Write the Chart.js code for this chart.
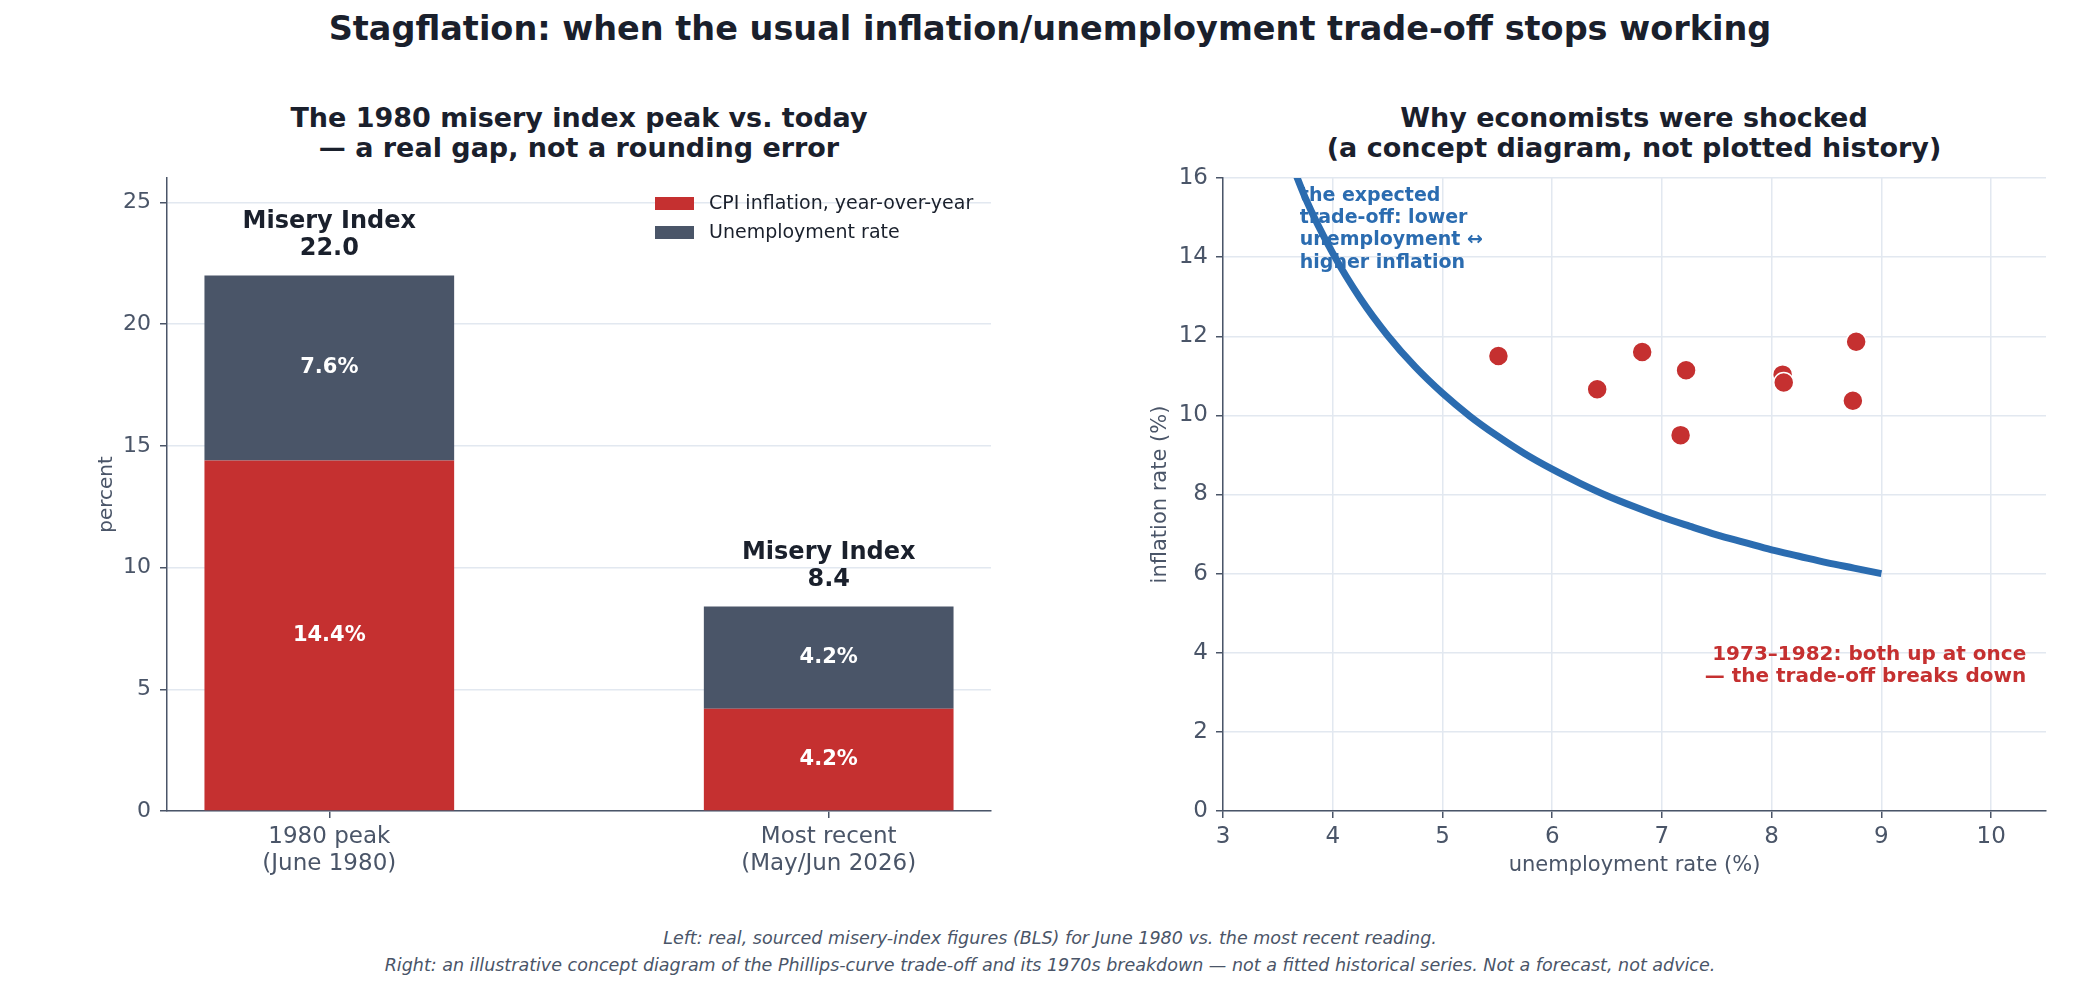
<!DOCTYPE html>
<html>
<head>
<meta charset="utf-8">
<script src="https://cdn.jsdelivr.net/npm/chart.js@4.4.1/dist/chart.umd.min.js"></script>
<style>
  body { margin: 0; width: 2100px; height: 990px; background: #fff; position: relative; overflow: hidden;
         font-family: "DejaVu Sans", sans-serif; }
  .abs { position: absolute; white-space: nowrap; }
  #mainTitle { left: 0; width: 2100px; top: 9px; text-align: center; font-size: 33.5px; line-height: 40px;
               font-weight: bold; color: #1a202c; }
  .subTitle { top: 103px; transform: translateX(-50%); text-align: center; font-size: 27px; line-height: 30px;
              font-weight: bold; color: #1a202c; }
  #footer { left: 0; width: 2100px; top: 925px; text-align: center; font-size: 17.5px; line-height: 27px;
            font-style: italic; color: #4a5568; }
  canvas { position: absolute; top: 100px; }
</style>
</head>
<body>
<div id="mainTitle" class="abs">Stagflation: when the usual inflation/unemployment trade-off stops working</div>
<div class="abs subTitle" style="left:579px">The 1980 misery index peak vs. today<br>— a real gap, not a rounding error</div>
<div class="abs subTitle" style="left:1634px">Why economists were shocked<br>(a concept diagram, not plotted history)</div>
<canvas id="barChart" width="1060" height="800" style="left:0"></canvas>
<canvas id="phillipsChart" width="1040" height="800" style="left:1060px"></canvas>
<div id="footer" class="abs">Left: real, sourced misery-index figures (BLS) for June 1980 vs. the most recent reading.<br>Right: an illustrative concept diagram of the Phillips-curve trade-off and its 1970s breakdown — not a fitted historical series. Not a forecast, not advice.</div>

<script>
// Left panel data
const barLabels = [['1980 peak', '(June 1980)'], ['Most recent', '(May/Jun 2026)']];
const barSlots = [0, 1];
const cpiInflation = [14.4, 4.2];
const unemploymentRate = [7.6, 4.2];
const miseryIndex = [22.0, 8.4];

// Right panel data: the textbook curve and the 1970s dots
const curveUnemp = [3.5, 3.75, 4, 4.25, 4.5, 4.75, 5, 5.25, 5.5, 5.75, 6, 6.25, 6.5, 6.75, 7, 7.25, 7.5, 7.75, 8, 8.25, 8.5, 8.75, 9];
const curveInfl = [17.3, 15.5, 14.1, 12.96, 12.02, 11.23, 10.56, 9.98, 9.48, 9.03, 8.64, 8.29, 7.97, 7.69, 7.43, 7.2, 6.98, 6.79, 6.6, 6.44, 6.28, 6.14, 6.0];
const dotUnemp = [5.51, 6.41, 6.82, 7.22, 7.17, 8.10, 8.11, 8.77, 8.74];
const dotInfl = [11.5, 10.66, 11.6, 11.14, 9.5, 11.03, 10.83, 11.86, 10.37];

const RED = '#c53030';
const SLATE = '#4a5568';
const BLUE = '#2b6cb0';
const INK = '#1a202c';
const GRID = '#e2e8f0';
const FONT = '"DejaVu Sans"';

Chart.defaults.font.family = FONT;
Chart.defaults.color = SLATE;

// labels inside/above the stacked bars plus the legend box
const barText = {
  id: 'barText',
  afterDatasetsDraw(chart) {
    const ctx = chart.ctx;
    ctx.save();
    ctx.textAlign = 'center';
    ctx.textBaseline = 'middle';
    ctx.fillStyle = '#fff';
    ctx.font = 'bold 21px ' + FONT;
    chart.data.datasets.forEach((ds, di) => {
      chart.getDatasetMeta(di).data.forEach((bar, i) => {
        ctx.fillText(ds.data[i].y.toFixed(1) + '%', bar.x, (bar.y + bar.base) / 2);
      });
    });

    ctx.textBaseline = 'alphabetic';
    ctx.fillStyle = INK;
    ctx.font = 'bold 24px ' + FONT;
    chart.getDatasetMeta(1).data.forEach((bar, i) => {
      ctx.fillText(miseryIndex[i].toFixed(1), bar.x, bar.y - 20);
      ctx.fillText('Misery Index', bar.x, bar.y - 47);
    });

    // legend, top right of the plot
    const area = chart.chartArea;
    ctx.textAlign = 'left';
    ctx.textBaseline = 'middle';
    ctx.font = '19px ' + FONT;
    chart.data.datasets.forEach((ds, di) => {
      const y = area.top + 25.5 + di * 29;
      ctx.fillStyle = ds.backgroundColor;
      ctx.fillRect(area.right - 336, y - 6.5, 39, 13);
      ctx.fillStyle = INK;
      ctx.fillText(ds.label, area.right - 282, y + 1);
    });
    ctx.restore();
  }
};

new Chart(document.getElementById('barChart'), {
  type: 'bar',
  data: {
    datasets: [
      { label: 'CPI inflation, year-over-year', data: barSlots.map((x, i) => ({ x: x, y: cpiInflation[i] })),
        backgroundColor: RED, barPercentage: 0.5, categoryPercentage: 1 },
      { label: 'Unemployment rate', data: barSlots.map((x, i) => ({ x: x, y: unemploymentRate[i] })),
        backgroundColor: SLATE, barPercentage: 0.5, categoryPercentage: 1 }
    ]
  },
  options: {
    responsive: false,
    animation: false,
    devicePixelRatio: 1,
    layout: { padding: { top: 78, right: 69, left: 0, bottom: 0 } },
    plugins: { legend: { display: false }, tooltip: { enabled: false } },
    scales: {
      x: {
        type: 'linear', stacked: true, min: -0.325, max: 1.325, offset: false,
        afterBuildTicks: s => { s.ticks = barSlots.map(v => ({ value: v })); },
        afterFit: s => { s.height = 89; },
        ticks: { callback: v => barLabels[v], font: { size: 23 }, color: SLATE, padding: 5,
                 autoSkip: false, maxRotation: 0 },
        grid: { offset: false, drawOnChartArea: false, tickLength: 7, tickColor: SLATE, lineWidth: 1.5 },
        border: { color: SLATE, width: 1.5 }
      },
      y: {
        stacked: true, min: 0, max: 26,
        afterFit: s => { s.width = 167; },
        ticks: { stepSize: 5, includeBounds: false, font: { size: 22 }, color: SLATE, padding: 9 },
        grid: { color: GRID, lineWidth: 1.5, tickLength: 7, tickColor: SLATE },
        border: { color: SLATE, width: 1.5 },
        title: { display: true, text: 'percent', font: { size: 20 }, color: SLATE, padding: { top: 95, bottom: 0 } }
      }
    }
  },
  plugins: [barText]
});

// annotation text placed through the scales
const conceptNotes = {
  id: 'conceptNotes',
  afterDatasetsDraw(chart) {
    const { ctx, scales: { x, y } } = chart;
    ctx.save();
    ctx.font = 'bold 19px ' + FONT;
    ctx.textBaseline = 'middle';
    ctx.textAlign = 'left';
    ctx.fillStyle = BLUE;
    ['the expected', 'trade-off: lower', 'unemployment ↔', 'higher inflation'].forEach((t, i) => {
      ctx.fillText(t, x.getPixelForValue(3.7), y.getPixelForValue(15.8) + 10 + i * 22.3);
    });
    ctx.textAlign = 'right';
    ctx.fillStyle = RED;
    ctx.font = 'bold 20px ' + FONT;
    ['1973–1982: both up at once', '— the trade-off breaks down'].forEach((t, i) => {
      ctx.fillText(t, x.getPixelForValue(10.32), y.getPixelForValue(4.0) + 2 + i * 22);
    });
    ctx.restore();
  }
};

new Chart(document.getElementById('phillipsChart'), {
  type: 'line',
  data: {
    datasets: [
      { data: curveUnemp.map((u, i) => ({ x: u, y: curveInfl[i] })), borderColor: BLUE, borderWidth: 7,
        pointRadius: 0, cubicInterpolationMode: 'monotone', fill: false, clip: 0, order: 2 },
      { data: dotUnemp.map((u, i) => ({ x: u, y: dotInfl[i] })), showLine: false, pointRadius: 10,
        pointBackgroundColor: RED, pointBorderColor: '#fff', pointBorderWidth: 1.5, order: 1 }
    ]
  },
  options: {
    responsive: false,
    animation: false,
    devicePixelRatio: 1,
    layout: { padding: { top: 78, right: 54, left: 0, bottom: 0 } },
    plugins: { legend: { display: false }, tooltip: { enabled: false } },
    scales: {
      x: {
        type: 'linear', min: 3, max: 10.5,
        afterFit: s => { s.height = 89; },
        ticks: { stepSize: 1, includeBounds: false, font: { size: 23 }, color: SLATE, padding: 5, maxRotation: 0 },
        grid: { color: GRID, lineWidth: 1.5, tickLength: 7, tickColor: SLATE },
        border: { color: SLATE, width: 1.5 },
        title: { display: true, text: 'unemployment rate (%)', font: { size: 21 }, color: SLATE,
                 padding: { top: 0, bottom: 22 } }
      },
      y: {
        min: 0, max: 16,
        afterFit: s => { s.width = 163; },
        ticks: { stepSize: 2, font: { size: 23 }, color: SLATE, padding: 8 },
        grid: { color: GRID, lineWidth: 1.5, tickLength: 7, tickColor: SLATE },
        border: { color: SLATE, width: 1.5 },
        title: { display: true, text: 'inflation rate (%)', font: { size: 21 }, color: SLATE,
                 padding: { top: 88, bottom: 0 } }
      }
    }
  },
  plugins: [conceptNotes]
});
</script>
</body>
</html>
